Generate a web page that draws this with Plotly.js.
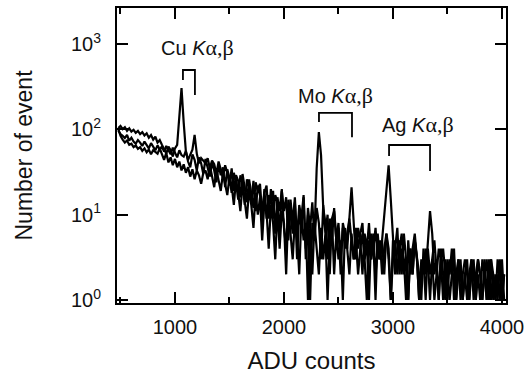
<!DOCTYPE html>
<html><head><meta charset="utf-8">
<script src="https://cdn.plot.ly/plotly-3.0.1.min.js"></script>
<style>html,body{margin:0;padding:0;background:#fff}#plot{width:529px;height:374px}</style>
</head><body><div id="plot"></div>
<script>
// bins: first bin centre and width (ADU)
const binStart = 480;
const binWidth = 20;

const spectrumCu = [
 104, 110, 101, 106, 96, 103, 94, 99, 91, 96,
 88, 93, 85, 90, 80, 86, 76, 82, 70, 75,
 66, 58, 52, 63, 57, 48, 60, 66, 140, 305,
 120, 55, 44, 52, 58, 86, 52, 40, 46, 43,
 40, 46, 35, 43, 39, 30, 42, 34, 27, 38,
 31, 22, 35, 19, 29, 25, 16, 30, 21, 14,
 26, 17, 12, 24, 19, 23, 10, 18, 22, 9,
 20, 9, 17, 14, 6, 19, 11, 16, 5, 15,
 8, 16, 5, 13, 9, 17, 4, 12, 7, 14,
 5, 12, 8, 3, 13, 6, 10, 2, 9, 11,
 5, 7, 2, 8, 6, 4, 9, 5, 3, 7,
 4, 6, 8, 3, 5, 1, 6, 4, 7, 3,
 5, 2, 4, 6, 3, 1, 5, 4, 7, 2,
 4, 3, 1, 5, 2, 4, 6, 3, 1, 3,
 2, 4, 3, 1, 3, 5, 2, 1, 3, 4,
 2, 1, 3, 2, 4, 1, 2, 3, 1, 2,
 3, 1, 2, 3, 1, 2, 1, 3, 2, 1,
 2, 3, 1, 2, 1, 3, 1, 2
];
const spectrumMo = [
 97, 88, 84, 79, 86, 74, 80, 72, 68, 75,
 70, 64, 72, 66, 60, 69, 63, 57, 65, 58,
 63, 55, 64, 58, 51, 61, 54, 47, 57, 50,
 48, 56, 42, 36, 51, 44, 33, 47, 40, 30,
 45, 35, 28, 41, 33, 24, 39, 29, 36, 21,
 34, 27, 18, 31, 24, 15, 29, 23, 13, 26,
 21, 14, 25, 11, 22, 17, 8, 20, 9, 17,
 14, 19, 6, 16, 11, 20, 7, 4, 15, 10,
 6, 14, 3, 11, 7, 16, 3, 10, 1, 8,
 6, 35, 93, 50, 12, 8, 3, 9, 5, 12,
 5, 8, 3, 7, 4, 6, 9, 21, 8, 3,
 7, 5, 2, 6, 4, 8, 3, 5, 1, 6,
 3, 5, 2, 6, 4, 1, 3, 5, 2, 4,
 6, 2, 3, 1, 4, 2, 5, 3, 1, 2,
 3, 1, 4, 2, 3, 1, 2, 4, 3, 1,
 3, 2, 1, 2, 3, 1, 3, 2, 1, 2,
 1, 2, 3, 1, 2, 3, 2, 1, 2, 3,
 1, 3, 2, 1, 2, 1, 3, 1
];
const spectrumAg = [
 101, 84, 76, 70, 74, 66, 68, 62, 65, 59,
 62, 56, 60, 54, 58, 51, 57, 55, 52, 60,
 50, 44, 53, 41, 47, 38, 45, 36, 42, 33,
 39, 31, 36, 28, 34, 26, 33, 29, 23, 31,
 33, 26, 38, 29, 21, 34, 26, 19, 31, 22,
 17, 28, 22, 13, 26, 18, 11, 23, 15, 9,
 20, 13, 7, 18, 10, 16, 5, 14, 11, 4,
 13, 8, 3, 12, 4, 11, 8, 2, 12, 6,
 3, 9, 6, 2, 10, 5, 8, 1, 7, 2,
 8, 4, 2, 7, 3, 6, 1, 5, 9, 2,
 6, 3, 5, 1, 7, 4, 2, 6, 3, 5,
 2, 4, 6, 3, 1, 5, 3, 6, 2, 4,
 3, 5, 10, 22, 38, 15, 6, 2, 4, 5,
 2, 6, 3, 1, 4, 2, 5, 3, 2, 1,
 4, 2, 5, 11, 6, 2, 3, 1, 4, 2,
 1, 3, 2, 4, 1, 2, 3, 1, 2, 3,
 2, 1, 3, 2, 1, 3, 2, 1, 3, 1,
 3, 1, 2, 1, 3, 2, 1, 2
];

const xTickVals = [1000, 2000, 3000, 4000];
const xTickText = ['1000', '2000', '3000', '4000'];
const yTickVals = [1, 10, 100, 1000];
const yTickText = ['10<sup>0</sup>', '10<sup>1</sup>', '10<sup>2</sup>', '10<sup>3</sup>'];

// line labels and brackets (ADU, counts)
const lineNames = ['Cu', 'Mo', 'Ag'];
const labelX = [1202, 2477, 3229];
const labelY = [900, 253, 113];
const kaX = [1073, 2321, 2964];
const kbX = [1183, 2624, 3340];
const bracketTop = [497, 156, 65.6];
const kaLegEnd = [379, 122, 48.8];
const kbLegEnd = [253, 81, 32.5];

const FONT = 'Liberation Sans, Arial, sans-serif';

const traces = [spectrumCu, spectrumMo, spectrumAg].map(s => ({
  type: 'scatter', mode: 'lines', x0: binStart, dx: binWidth, y: s,
  line: {color: '#000', width: 2.2}, hoverinfo: 'skip', showlegend: false
}));

const annotations = lineNames.map((n, i) => ({
  x: labelX[i], y: Math.log10(labelY[i]), xref: 'x', yref: 'y',
  text: n + ' <i>K</i><span style="font-family:\'Liberation Serif\', serif;font-size:22px">α,β</span>',
  showarrow: false, font: {family: FONT, size: 20, color: '#111'},
  xanchor: 'center', yanchor: 'middle'
}));

const shapes = lineNames.map((n, i) => ({
  type: 'path', xref: 'x', yref: 'y',
  path: 'M' + kaX[i] + ',' + kaLegEnd[i] + 'L' + kaX[i] + ',' + bracketTop[i] +
        'L' + kbX[i] + ',' + bracketTop[i] + 'L' + kbX[i] + ',' + kbLegEnd[i],
  line: {color: '#000', width: 1.8}
}));

const layout = {
  width: 529, height: 374,
  margin: {l: 117, r: 23, t: 8, b: 71},
  paper_bgcolor: '#fff', plot_bgcolor: '#fff',
  font: {family: FONT, color: '#111', size: 20},
  showlegend: false,
  xaxis: {
    range: [468, 4037], showgrid: false, zeroline: false,
    showline: true, linecolor: '#000', linewidth: 2, mirror: 'allticks',
    ticks: 'inside', ticklen: 11, tickwidth: 2, tickcolor: '#000',
    tickmode: 'array', tickvals: xTickVals, ticktext: xTickText,
    minor: {tickmode: 'linear', tick0: 500, dtick: 1000, ticks: 'inside', ticklen: 6, tickwidth: 2, tickcolor: '#000', showgrid: false},
    tickfont: {size: 20, family: FONT, color: '#111'},
    ticklabelstandoff: 5,
    title: {text: 'ADU counts', font: {size: 24, family: FONT, color: '#111'}, standoff: 17}
  },
  yaxis: {
    type: 'log', range: [-0.035, 3.423], showgrid: false, zeroline: false,
    showline: true, linecolor: '#000', linewidth: 2, mirror: 'allticks',
    ticks: 'inside', ticklen: 11, tickwidth: 2, tickcolor: '#000',
    tickmode: 'array', tickvals: yTickVals, ticktext: yTickText,
    tickfont: {size: 20, family: FONT, color: '#111'},
    ticklabelstandoff: 10,
    title: {text: 'Number of event', font: {size: 23, family: FONT, color: '#111'}, standoff: 32}
  },
  annotations: annotations,
  shapes: shapes
};

Plotly.newPlot('plot', traces, layout, {staticPlot: true, displayModeBar: false});
</script>
</body></html>
